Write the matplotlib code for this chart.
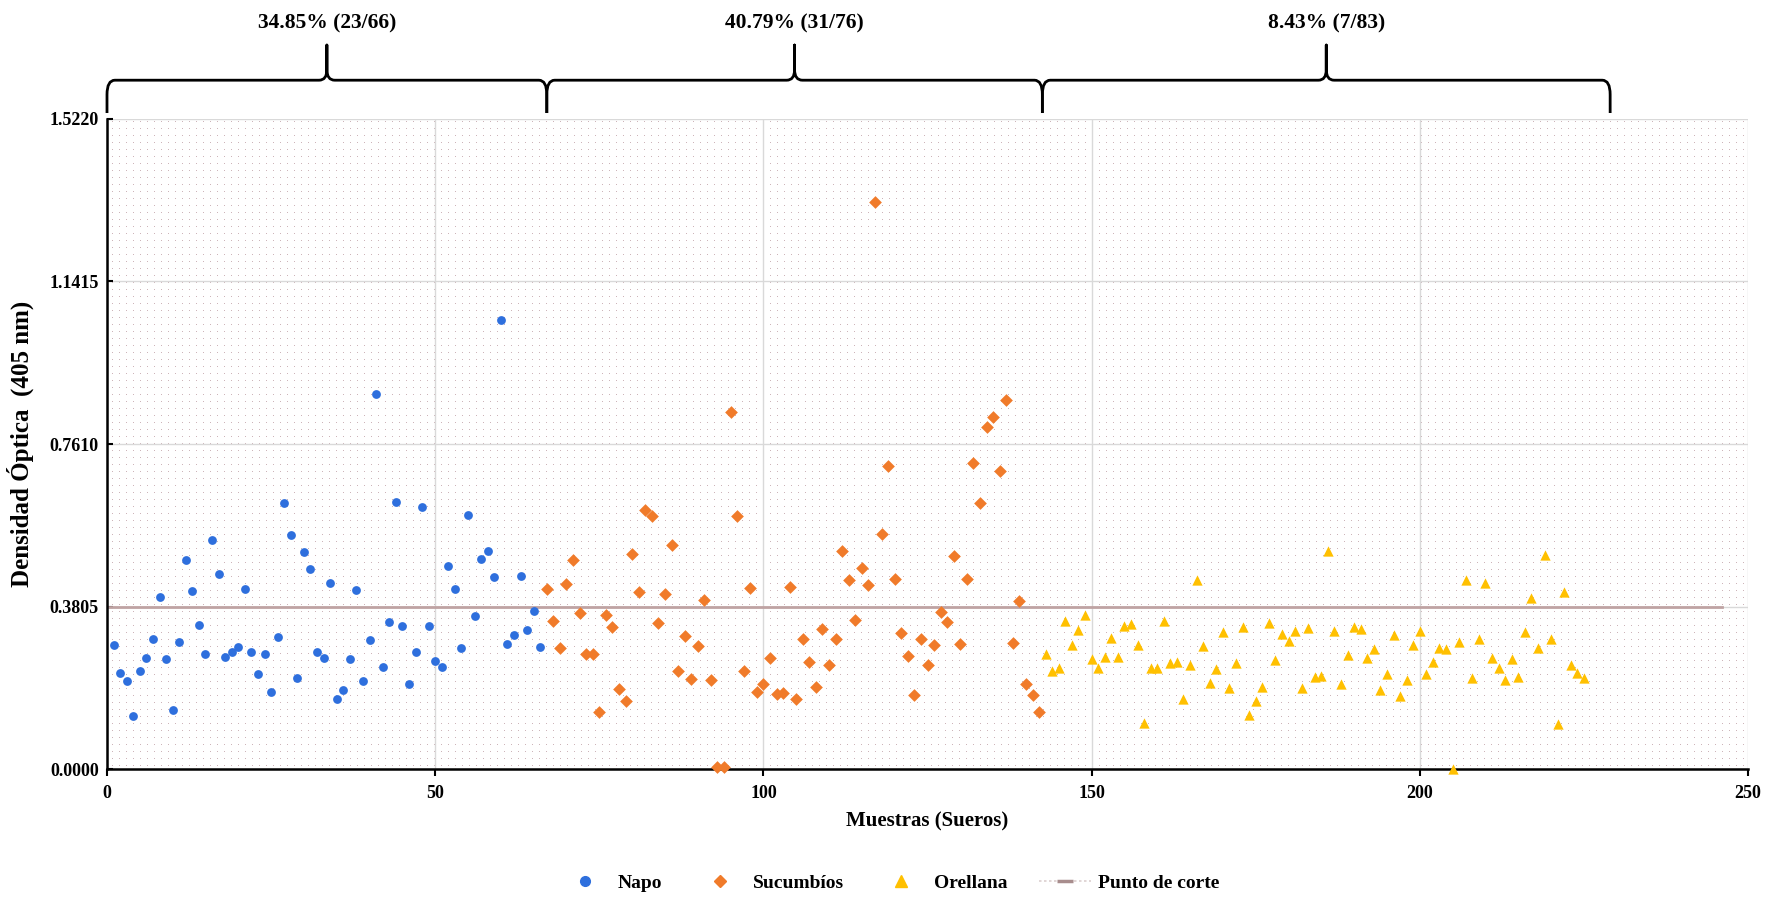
import numpy as np
import matplotlib
matplotlib.use("Agg")
import matplotlib.pyplot as plt
import matplotlib.transforms as mtransforms
from matplotlib.path import Path
from matplotlib.patches import PathPatch
from matplotlib.lines import Line2D

plt.rcParams["font.family"] = ["Liberation Serif", "DejaVu Serif"]
plt.rcParams["font.weight"] = "bold"

# ---------------- data ----------------
napo = [0.291, 0.225, 0.207, 0.125, 0.229, 0.261, 0.304, 0.403, 0.259, 0.138,
        0.299, 0.490, 0.417, 0.338, 0.271, 0.536, 0.457, 0.264, 0.274, 0.287,
        0.421, 0.274, 0.223, 0.271, 0.180, 0.310, 0.624, 0.549, 0.214, 0.508,
        0.469, 0.274, 0.260, 0.436, 0.164, 0.185, 0.259, 0.419, 0.207, 0.302,
        0.877, 0.239, 0.345, 0.625, 0.335, 0.200, 0.275, 0.613, 0.336, 0.253,
        0.240, 0.476, 0.421, 0.284, 0.596, 0.359, 0.493, 0.510, 0.451, 1.052,
        0.293, 0.315, 0.453, 0.327, 0.370, 0.286]

sucumbios = [0.421, 0.348, 0.283, 0.434, 0.490, 0.365, 0.270, 0.270, 0.135, 0.362,
             0.333, 0.189, 0.161, 0.503, 0.414, 0.607, 0.592, 0.343, 0.411, 0.524,
             0.230, 0.311, 0.211, 0.289, 0.396, 0.210, 0.005, 0.005, 0.837, 0.592,
             0.229, 0.425, 0.182, 0.200, 0.261, 0.177, 0.179, 0.427, 0.165, 0.306,
             0.252, 0.193, 0.328, 0.245, 0.306, 0.511, 0.442, 0.350, 0.471, 0.432,
             1.327, 0.551, 0.710, 0.446, 0.319, 0.265, 0.174, 0.306, 0.244, 0.290,
             0.367, 0.344, 0.498, 0.293, 0.446, 0.716, 0.624, 0.800, 0.824, 0.697,
             0.865, 0.296, 0.393, 0.200, 0.175, 0.134]

orellana = [0.270, 0.231, 0.237, 0.348, 0.291, 0.325, 0.362, 0.258, 0.238, 0.263,
            0.308, 0.263, 0.335, 0.341, 0.290, 0.108, 0.236, 0.236, 0.348, 0.249,
            0.252, 0.164, 0.243, 0.443, 0.289, 0.202, 0.235, 0.322, 0.190, 0.250,
            0.334, 0.127, 0.161, 0.193, 0.343, 0.255, 0.317, 0.301, 0.324, 0.190,
            0.330, 0.215, 0.219, 0.511, 0.324, 0.200, 0.268, 0.332, 0.328, 0.260,
            0.281, 0.185, 0.223, 0.314, 0.171, 0.208, 0.291, 0.324, 0.222, 0.251,
            0.284, 0.282, 0.000, 0.299, 0.443, 0.214, 0.306, 0.437, 0.260, 0.236,
            0.210, 0.258, 0.216, 0.321, 0.400, 0.285, 0.501, 0.306, 0.106, 0.415,
            0.243, 0.226, 0.214]

cutoff = 0.3805
cutoff_x = [0, 246]

series_names = ["Napo", "Sucumbíos", "Orellana"]
cut_name = "Punto de corte"
group_spans = [(0, 67), (67, 142.5), (142.5, 229)]
group_labels = ["34.85% (23/66)", "40.79% (31/76)", "8.43% (7/83)"]

y_ticks = [0.0, 0.3805, 0.7610, 1.1415, 1.5220]
x_ticks = [0, 50, 100, 150, 200, 250]

# ---------------- figure ----------------
W, H, DPI = 1776, 901, 100
fig = plt.figure(figsize=(W / DPI, H / DPI), dpi=DPI, facecolor="white")
ax_l, ax_r, ax_b, ax_t = 107, 1748, 131.6, 782.4
ax = fig.add_axes([ax_l / W, ax_b / H, (ax_r - ax_l) / W, (ax_t - ax_b) / H])
ax.set_facecolor("none")

# dotted background texture
tw, th = int(round(ax_r - ax_l)), int(round(ax_t - ax_b))
tex = np.ones((th, tw, 4))
dot_col = np.array([205, 180, 185]) / 255
for yy in range(3, th, 7):
    for xx in range(5, tw, 7):
        tex[yy, xx, :3] = dot_col
fig.figimage(tex, xo=int(round(ax_l)), yo=int(round(ax_b)), origin="lower", zorder=-1)

ax.set_xlim(0, 250)
ax.set_ylim(0, 1.522)
ax.set_xticks(x_ticks)
ax.set_yticks(y_ticks)
ax.set_yticklabels([f"{v:.4f}" for v in y_ticks])
ax.grid(True, color="#d9d9d9", lw=1.0)
ax.set_axisbelow(True)
for s in ["top", "right"]:
    ax.spines[s].set_visible(False)
for s in ["left", "bottom"]:
    ax.spines[s].set_linewidth(1.8)
    ax.spines[s].set_color("black")
ax.tick_params(axis="x", direction="out", length=5, width=1.5, labelsize=13, pad=6)
ax.tick_params(axis="y", direction="in", length=4, width=1.5, labelsize=13, pad=6)
for lab in ax.get_xticklabels() + ax.get_yticklabels():
    lab.set_fontweight("bold")

c_napo, c_suc, c_ore, c_cut = "#2E6FDD", "#F07B2A", "#FFC000", "#BFA3A3"

x_napo = np.arange(1, len(napo) + 1)
x_suc = np.arange(len(napo) + 1, len(napo) + len(sucumbios) + 1)
x_ore = np.arange(len(napo) + len(sucumbios) + 1,
                  len(napo) + len(sucumbios) + len(orellana) + 1)

ax.plot(cutoff_x, [cutoff, cutoff], color=c_cut, lw=2, zorder=2)
ax.scatter(x_napo, napo, s=40, marker="o", color=c_napo, zorder=3, clip_on=False, linewidths=0)
ax.scatter(x_suc, sucumbios, s=42, marker="D", color=c_suc, zorder=3, clip_on=False, linewidths=0)
ax.scatter(x_ore, orellana, s=55, marker="^", color=c_ore, zorder=3, clip_on=False, linewidths=0)

ax.set_xlabel("Muestras (Sueros)", fontsize=15, fontweight="bold", labelpad=7)
ax.set_ylabel("Densidad Óptica  (405 nm)", fontsize=18, fontweight="bold", labelpad=11)

# braces
trans = mtransforms.blended_transform_factory(ax.transData, ax.transAxes)
yb, yh, yt = 1.0086, 1.059, 1.113
rx, ry, cry = 1.2, 0.022, 0.016
for (x0, x1), lab in zip(group_spans, group_labels):
    xm = (x0 + x1) / 2
    verts = [(x0, yb), (x0, yh - ry), (x0, yh), (x0 + rx, yh),
             (xm - rx, yh), (xm, yh), (xm, yh + cry), (xm, yt),
             (xm, yh + cry), (xm, yh), (xm + rx, yh),
             (x1 - rx, yh), (x1, yh), (x1, yh - ry), (x1, yb)]
    codes = [Path.MOVETO, Path.LINETO, Path.CURVE3, Path.CURVE3,
             Path.LINETO, Path.CURVE3, Path.CURVE3, Path.LINETO,
             Path.LINETO, Path.CURVE3, Path.CURVE3,
             Path.LINETO, Path.CURVE3, Path.CURVE3, Path.LINETO]
    ax.add_patch(PathPatch(Path(verts, codes), fill=False, lw=2.0, ec="black",
                           transform=trans, clip_on=False, capstyle="butt", joinstyle="round"))
    ax.text(xm, 1.146, lab, transform=trans, ha="center", va="center",
            fontsize=15.5, fontweight="bold")

# legend (centred in the figure, like the original)
handles = [
    Line2D([], [], ls="none", marker="o", color=c_napo, markersize=7),
    Line2D([], [], ls="none", marker="D", color=c_suc, markersize=6),
    Line2D([], [], ls="none", marker="^", color=c_ore, markersize=8),
    Line2D([], [], color="#dccfcf", lw=1.2, ls=(0, (1.5, 1.5)), marker="_",
           markersize=12, markeredgecolor="#a88d8d", markeredgewidth=2.5),
]
fig.legend(handles, series_names + [cut_name], loc="center",
           bbox_to_anchor=(0.5006, 0.02), ncol=4, frameon=False,
           prop={"size": 14, "weight": "bold"}, columnspacing=1.6,
           handlelength=2.7, handletextpad=0.35, borderpad=0, borderaxespad=0)

fig.savefig("out.png", dpi=DPI, facecolor="white")
